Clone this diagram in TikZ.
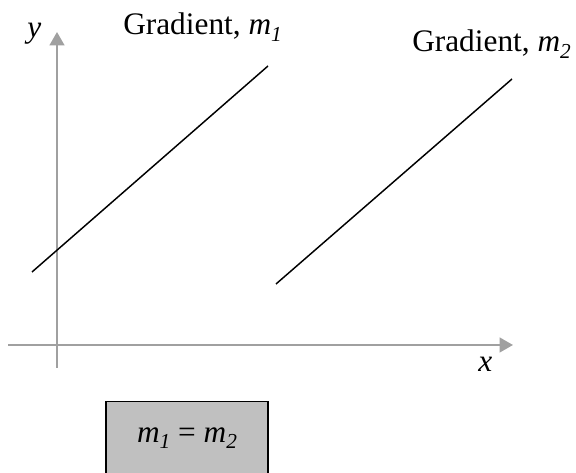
\documentclass[tikz,border=0pt]{standalone}
\usepackage{fontspec}
\setmainfont{Liberation Serif}
\usetikzlibrary{arrows.meta, positioning}
\definecolor{axGray}{RGB}{160,160,160}
\definecolor{boxGray}{RGB}{192,192,192}
\newcommand{\lowsub}[1]{\raisebox{-0.2em}{\fontsize{16}{18}\selectfont\textit{#1}}}

\begin{document}
\begin{tikzpicture}[x=0.75pt, y=-0.75pt,
            ax/.style={draw=axGray, line width=1.6pt, -{Triangle[length=10pt, width=11pt]}},
            ln/.style={draw=black, line width=1.1pt},
            lbl/.style={inner sep=0pt, anchor=base west, font=\fontsize{23.5}{26}\selectfont},
            eqbox/.style={draw=black, line width=1.1pt, fill=boxGray, minimum width=121.5pt, minimum height=55pt, inner sep=0pt, font=\fontsize{23.5}{26}\selectfont}]
            \useasboundingbox (0,0) rectangle (576,473);
            % axes
            \coordinate (ybot) at (57,368);
            \coordinate (ytop) at (57,32);
            \coordinate (xlft) at (8,345);
            \coordinate (xrgt) at (513,345);
            \draw[ax] (ybot) -- (ytop);
            \draw[ax] (xlft) -- (xrgt);
            \node[lbl] (ylab) at (27,38) {\textit{y}};
            \node[lbl] (xlab) at (478,372) {\textit{x}};
            % the two parallel lines
            \coordinate (a1) at (32,272);
            \coordinate (b1) at (268,66);
            \coordinate (a2) at (276,284);
            \coordinate (b2) at (512,79);
            \draw[ln] (a1) -- (b1);
            \draw[ln] (a2) -- (b2);
            \node[lbl] (grad1) at (123,35) {Gradient, \textit{m}\lowsub{1}};
            \node[lbl] (grad2) at (412,52) {Gradient, \textit{m}\lowsub{2}};
            % result
            \node[eqbox] (eq) at (187,438) {\textit{m}\lowsub{1} = \textit{m}\lowsub{2}};
        \end{tikzpicture}
\end{document}
